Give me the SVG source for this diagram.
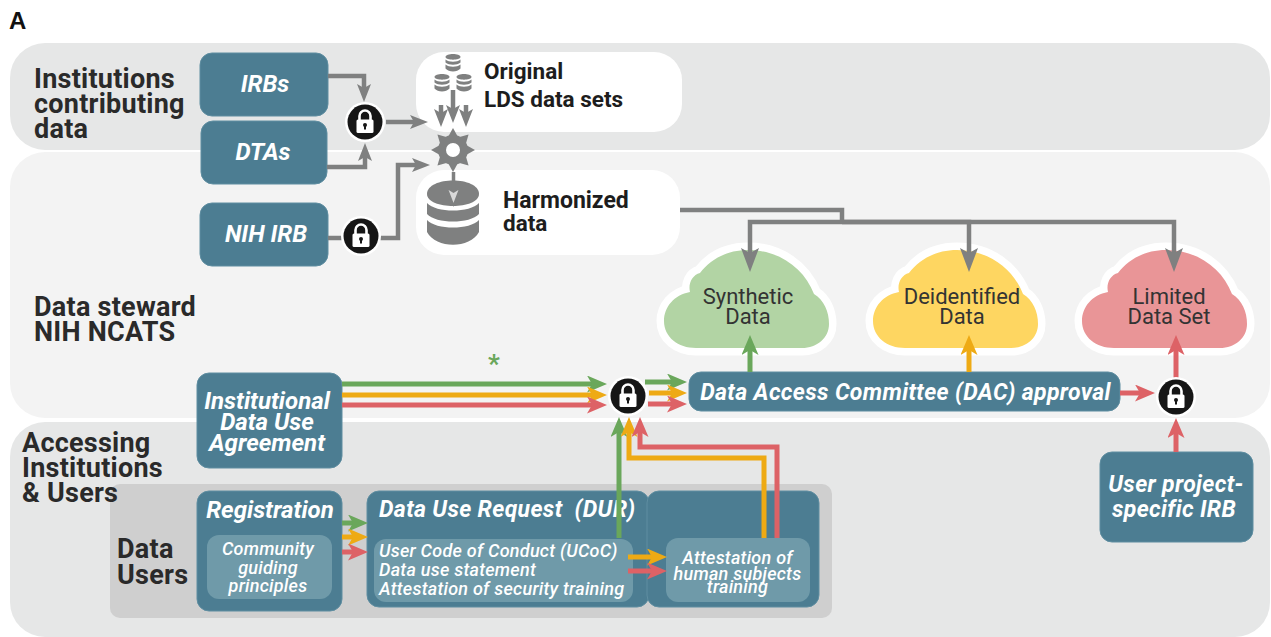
<svg xmlns="http://www.w3.org/2000/svg" xmlns:xlink="http://www.w3.org/1999/xlink" width="1271" height="637" viewBox="0 0 1271 637">
<style>
text{font-family:Roboto,"Liberation Sans",sans-serif}
.h{font-size:27px;font-weight:700;fill:#2a2a2a;letter-spacing:.25px}
.t{fill:#4c7d92;stroke:#5f8ea1;stroke-width:1}
.i{fill:#6f9aa9}
.n{fill:#fff;font-style:italic;font-weight:700;text-anchor:middle}
.w{letter-spacing:.35px;font-size:23px}
.u{font-size:24px}
.s{fill:#fff;font-style:italic;font-weight:500;font-size:18px;text-anchor:middle;letter-spacing:.25px}
.l{text-anchor:start}
.c{font-size:22px;fill:#333;text-anchor:middle}
.b{font-weight:700;fill:#1d1d1d}
.g{fill:none;stroke:#7f8080;stroke-width:4.5;marker-end:url(#mg)}
.gb{fill:none;stroke:#7f8080;stroke-width:4.5;marker-end:url(#mgb)}
.gl{fill:none;stroke:#7f8080;stroke-width:4.5}
.gr{fill:none;stroke:#6aa75b;stroke-width:5;marker-end:url(#mgr)}
.y{fill:none;stroke:#eeaa14;stroke-width:5;marker-end:url(#my)}
.r{fill:none;stroke:#dd6266;stroke-width:5;marker-end:url(#mr)}
.cl{stroke:#fff;stroke-width:15;stroke-linejoin:round;paint-order:stroke}
</style>
<defs>
<marker id="mg" markerUnits="userSpaceOnUse" markerWidth="18" markerHeight="16" viewBox="0 0 18 16" refX="6" refY="8" orient="auto"><path d="M0 1L18 8L0 15L4 8Z" fill="#7f8080"/></marker>
<marker id="mgb" markerUnits="userSpaceOnUse" markerWidth="24" markerHeight="18" viewBox="0 0 24 18" refX="8" refY="9" orient="auto"><path d="M0 0L24 9L0 18L5 9Z" fill="#7f8080"/></marker>
<marker id="mgr" markerUnits="userSpaceOnUse" markerWidth="20" markerHeight="17" viewBox="0 0 20 17" refX="8" refY="8.5" orient="auto"><path d="M0 0L20 8.5L0 17L5 8.5Z" fill="#6aa75b"/></marker>
<marker id="my" markerUnits="userSpaceOnUse" markerWidth="20" markerHeight="17" viewBox="0 0 20 17" refX="8" refY="8.5" orient="auto"><path d="M0 0L20 8.5L0 17L5 8.5Z" fill="#eeaa14"/></marker>
<marker id="mr" markerUnits="userSpaceOnUse" markerWidth="20" markerHeight="17" viewBox="0 0 20 17" refX="8" refY="8.5" orient="auto"><path d="M0 0L20 8.5L0 17L5 8.5Z" fill="#dd6266"/></marker>
<path id="cloud" d="M84 0C115 0 140 18 150 44C160 50 165 62 165 74C165 88 153 98 138 98H32C14 98 0 87 0 71C0 57 10 45 26 42C24 34 28 25 36 23C46 10 62 0 84 0Z"/>
<g id="lock">
<circle r="20" fill="#fff"/><circle r="17.5" fill="#161616"/>
<path d="M-5.5 -2V-6A5.5 5.5 0 0 1 5.5 -6V-2" fill="none" stroke="#fff" stroke-width="2.6"/>
<rect x="-8.5" y="-2.5" width="17" height="13.5" rx="1.5" fill="#fff"/>
<circle cy="3" r="2" fill="#161616"/><rect x="-1" y="3" width="2" height="4.5" fill="#161616"/>
</g>
<g id="smalldb" fill="#7f8080"><path d="M-7.5 -6C-7.5 -10 7.5 -10 7.5 -6C7.5 -2.5 -7.5 -2.5 -7.5 -6Z"/><path d="M-7.5 -3.5C-4 -0.5 4 -0.5 7.5 -3.5V-0.5C4 2.5 -4 2.5 -7.5 -0.5Z"/><path d="M-7.5 1.5C-4 4.5 4 4.5 7.5 1.5V5.5C4 9.5 -4 9.5 -7.5 5.5Z"/></g>
<polygon id="tooth" points="-5,-13 0,-22 5,-13" fill="#7f8080"/>
</defs>

<rect width="1271" height="637" fill="#fff"/>
<g id="bands">
<rect x="10" y="43" width="1260" height="107" rx="35" fill="#e6e7e7"/>
<rect x="10" y="152" width="1260" height="266" rx="35" fill="#f3f3f3"/>
<rect x="10" y="422" width="1260" height="215" rx="35" fill="#e6e7e7"/>
<rect x="110" y="484" width="722" height="134" rx="10" fill="#cfcfcf"/>
</g>

<text x="9" y="29" font-size="24" font-weight="700" fill="#111" style="font-family:'Liberation Sans',sans-serif">A</text>
<g id="band-labels">
<text class="h" x="34" y="88">Institutions</text><text class="h" x="34" y="113">contributing</text><text class="h" x="34" y="138">data</text>
<text class="h" x="34" y="316">Data steward</text><text class="h" x="34" y="341">NIH NCATS</text>
<text class="h" x="22" y="452">Accessing</text><text class="h" x="22" y="477">Institutions</text><text class="h" x="22" y="502">&amp; Users</text>
<text class="h" x="117" y="558">Data</text><text class="h" x="117" y="584">Users</text>
</g>

<g id="original"><rect x="416" y="52" width="266" height="80" rx="28" fill="#fff"/>
<use xlink:href="#smalldb" href="#smalldb" x="453" y="63"/><use xlink:href="#smalldb" href="#smalldb" x="442" y="83"/><use xlink:href="#smalldb" href="#smalldb" x="464" y="83"/>
<text class="b" x="484" y="79" font-size="22.5">Original</text><text class="b" x="484" y="107" font-size="22.5">LDS data sets</text></g>
<g id="harmonized"><rect x="416" y="170" width="264" height="85" rx="28" fill="#fff"/>
<g fill="#7f8080"><path d="M427 194C427 176 479 176 479 194C479 210 427 210 427 194Z"/><path d="M427 203C436 213 470 213 479 203V214C470 224 436 224 427 214Z"/><path d="M427 220C436 230 470 230 479 220V232C470 249 436 249 427 232Z"/></g>
<text class="b" x="503" y="208" font-size="23">Harmonized</text><text class="b" x="503" y="231" font-size="22.5">data</text></g>

<g id="gear">
<g transform="translate(453 150)"><use href="#tooth" xlink:href="#tooth"/><use href="#tooth" xlink:href="#tooth" transform="rotate(45)"/><use href="#tooth" xlink:href="#tooth" transform="rotate(90)"/><use href="#tooth" xlink:href="#tooth" transform="rotate(135)"/><use href="#tooth" xlink:href="#tooth" transform="rotate(180)"/><use href="#tooth" xlink:href="#tooth" transform="rotate(225)"/><use href="#tooth" xlink:href="#tooth" transform="rotate(270)"/><use href="#tooth" xlink:href="#tooth" transform="rotate(315)"/><circle r="15" fill="#7f8080"/><circle r="7" fill="#fff"/></g>
</g>

<g id="clouds">
<g id="cloud-synthetic"><use href="#cloud" xlink:href="#cloud" x="664" y="250" class="cl" fill="#b2d4a4"/><text class="c" x="748" y="304">Synthetic</text><text class="c" x="748" y="324">Data</text></g>
<g id="cloud-deidentified"><use href="#cloud" xlink:href="#cloud" x="873" y="250" class="cl" fill="#fed661"/><text class="c" x="962" y="304">Deidentified</text><text class="c" x="962" y="324">Data</text></g>
<g id="cloud-limited"><use href="#cloud" xlink:href="#cloud" x="1082" y="250" class="cl" fill="#e99597"/><text class="c" x="1169" y="304">Limited</text><text class="c" x="1169" y="324">Data Set</text></g>
</g>

<g id="irbs"><rect class="t" x="200" y="53" width="128" height="63" rx="12"/><text class="n u" x="265" y="92">IRBs</text></g>
<g id="dtas"><rect class="t" x="201" y="121" width="126" height="63" rx="12"/><text class="n u" x="263" y="160">DTAs</text></g>
<g id="nih-irb"><rect class="t" x="200" y="203" width="128" height="63" rx="12"/><text class="n u" x="266" y="242">NIH IRB</text></g>
<g id="idua"><rect class="t" x="197" y="373" width="145" height="95" rx="12"/><text class="n u" x="267" y="409">Institutional</text><text class="n u" x="267" y="430">Data Use</text><text class="n u" x="267" y="451">Agreement</text></g>
<g id="registration"><rect class="t" x="197" y="491" width="145" height="120" rx="12"/><text class="n u" x="270" y="518">Registration</text><rect class="i" x="207" y="535" width="125" height="64" rx="12"/><text class="s" x="268" y="555">Community</text><text class="s" x="268" y="574">guiding</text><text class="s" x="268" y="592">principles</text></g>
<g id="dur"><rect class="t" x="367" y="491" width="282" height="116" rx="12"/><text class="n w l" x="379" y="517" xml:space="preserve">Data Use Request  (DUR)</text><rect class="i" x="374" y="539" width="259" height="63" rx="12"/><text class="s l" x="379" y="557">User Code of Conduct (UCoC)</text><text class="s l" x="379" y="576">Data use statement</text><text class="s l" x="379" y="595">Attestation of security training</text></g>
<g id="human-subjects"><rect class="t" x="647" y="491" width="172" height="116" rx="12"/><rect class="i" x="666" y="538" width="144" height="64" rx="12"/><text class="s" x="737.5" y="564">Attestation of</text><text class="s" x="737.5" y="580">human subjects</text><text class="s" x="737.5" y="593">training</text></g>
<g id="dac"><rect class="t" x="689" y="372" width="431" height="39" rx="12"/><text class="n w" x="905.5" y="400">Data Access Committee (DAC) approval</text></g>
<g id="user-irb"><rect class="t" x="1100" y="452" width="153" height="90" rx="12"/><text class="n w" x="1176" y="492">User project-</text><text class="n w" x="1174" y="517">specific IRB</text></g>

<g id="connectors">
<path class="g" d="M328 76H364V90"/>
<path class="g" d="M327 167H365V155"/>
<path class="g" d="M386 122H416"/>
<path class="gl" d="M328 238H345"/>
<path class="g" d="M378 238H398V165H418"/>
<path class="g" d="M441 105V115"/>
<path class="g" d="M453 90V111"/>
<path class="g" d="M466 105V115"/>
<path d="M453.500 172V196" fill="none" stroke="#7f8080" stroke-width="3.500"/><path d="M447 188L453.500 205L460 188L453.500 192Z" fill="#d9d9d9" stroke="#7f8080" stroke-width="1.500"/>
<path class="gl" d="M680 210H842V222"/>
<path class="gb" d="M842 222H750V256"/>
<path class="gb" d="M842 222H969V256"/>
<path class="gb" d="M842 222H1174V256"/>
<path class="gr" d="M342 384H595"/>
<path class="y" d="M342 395H595"/>
<path class="r" d="M342 405H595"/>
<path class="gr" d="M645 382H675"/>
<path class="y" d="M649 393H675"/>
<path class="r" d="M648 404H675"/>
<path class="gr" d="M750 372V347"/>
<path class="y" d="M969 372V347"/>
<path class="r" d="M1176 378V347"/>
<path class="r" d="M1120 393H1143"/>
<path class="r" d="M1176 452V430"/>
<path class="gr" d="M619 538V429"/>
<path class="y" d="M764 538V458H629V429"/>
<path class="r" d="M777 538V447H640V429"/>
<path class="y" d="M628 557H655"/>
<path class="r" d="M628 571H655"/>
<path class="gr" d="M342 523H356"/>
<path class="y" d="M342 537H356"/>
<path class="r" d="M342 552H356"/>
</g>
<g id="locks">
<use href="#lock" xlink:href="#lock" x="365" y="122"/>
<use href="#lock" xlink:href="#lock" x="361" y="236"/>
<use href="#lock" xlink:href="#lock" x="628" y="396"/>
<use href="#lock" xlink:href="#lock" x="1176" y="397"/>
</g>
<text x="494" y="373" font-size="26" font-weight="700" fill="#6aa75b" text-anchor="middle">*</text>
</svg>
